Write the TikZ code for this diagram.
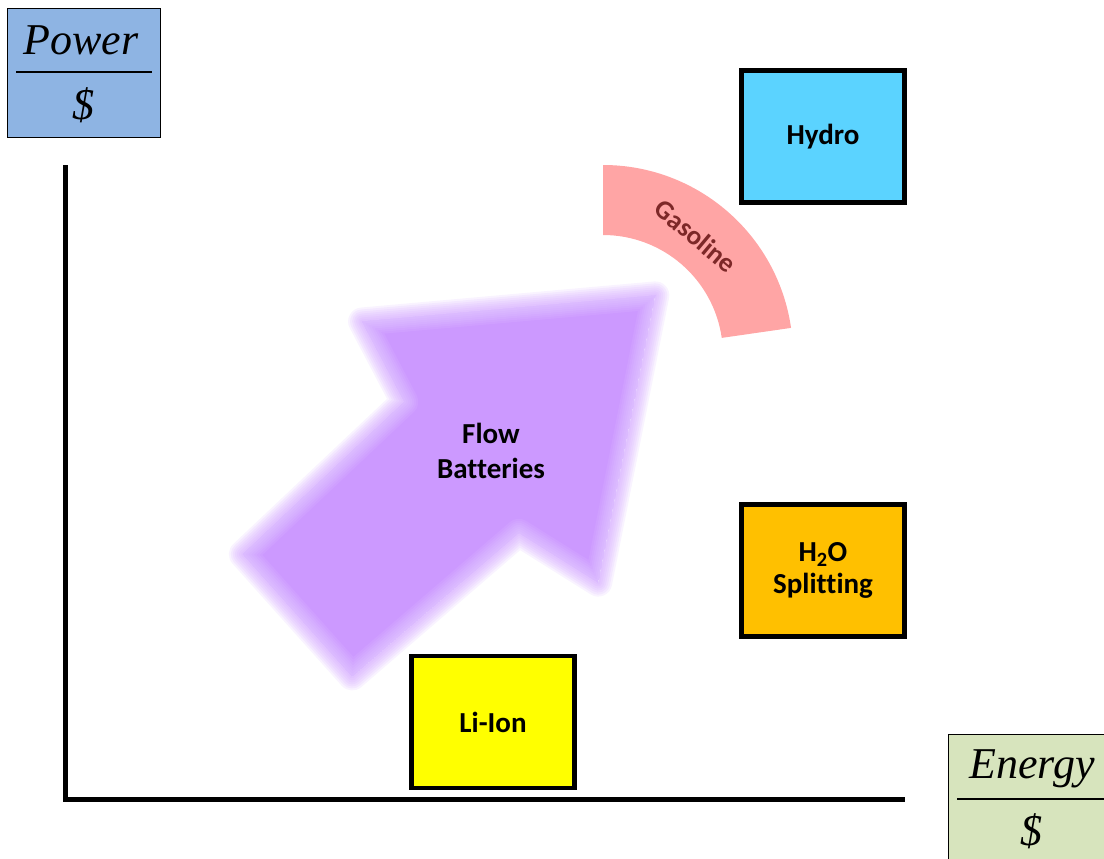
\documentclass[tikz,border=0pt]{standalone}
\usepackage{fontspec}
\newfontfamily\labelfont[Ligatures={NoCommon}]{Carlito}
\newfontfamily\axisfont{Liberation Serif}
\definecolor{powerblue}{HTML}{8EB4E3}
\definecolor{energygreen}{HTML}{D7E4BD}
\definecolor{hydrocyan}{HTML}{5BD3FF}
\definecolor{splitorange}{HTML}{FFC000}
\definecolor{lionyellow}{HTML}{FFFF00}
\definecolor{gaspink}{HTML}{FFA5A5}
\definecolor{gastext}{RGB}{125,40,40}
\definecolor{flowpurple}{HTML}{CC99FF}

\begin{document}
\begin{tikzpicture}[x=1pt,y=1pt,
  techbox/.style={draw=black, line width=4.5pt, minimum width=163pt, minimum height=132pt,
    inner sep=0pt, align=center, font=\labelfont\bfseries\fontsize{29}{32}\selectfont},
  fracbox/.style={draw=black, line width=0.9pt, inner sep=0pt},
  fracword/.style={font=\axisfont\itshape\fontsize{44}{44}\selectfont, inner sep=0pt},
  fracbar/.style={line width=2pt},
  axisline/.style={line width=5pt, line join=miter},
  plainlabel/.style={align=center, inner sep=0pt, font=\labelfont\bfseries\fontsize{29}{35}\selectfont},
]
\useasboundingbox (0,0) rectangle (1104,-859);
\clip (0,0) rectangle (1104,-859);

% soft-edged arrow for flow batteries
\def\arrowpath{(-2,-82) -- (218,-86) -- (244,-176) -- (478,0) -- (242,176) -- (220,88) -- (-2,82) -- cycle}
\begin{scope}[shift={(299,-614)}, rotate=41.8]
  \foreach \d in {2,4,6,8,10,12,14}{
    \draw[flowpurple, opacity=0.12, line width=2*\d pt, line join=round] \arrowpath;
  }
  \begin{scope}
    \clip \arrowpath;
    \fill[flowpurple] \arrowpath;
    \foreach \d in {2,4,6,8,10,12,14}{
      \draw[white, opacity=0.06, line width=2*\d pt, line join=round] \arrowpath;
    }
  \end{scope}
\end{scope}
\node[plainlabel] (flow) at (491,-451) {Flow\\Batteries};

% gasoline band
\coordinate (gascenter) at (603,-355);
\fill[gaspink] (gascenter) ++(8.2:190) arc[start angle=8.2, end angle=90, radius=190]
  -- ++(0,-70) arc[start angle=90, end angle=8.2, radius=120] -- cycle;
\node[rotate=-40, text=gastext, font=\labelfont\bfseries\fontsize{27}{27}\selectfont, inner sep=0pt]
  (gasoline) at (696,-236) {Gasoline};

% technology boxes
\node[techbox, fill=hydrocyan] (hydro) at (823,-136.5) {Hydro};
\node[techbox, fill=splitorange] (split) at (823,-570.5) {H\textsubscript{2}O\\Splitting};
\node[techbox, fill=lionyellow] (lion) at (493,-722) {Li-Ion};

% axes
\coordinate (ytop) at (65,-165);
\coordinate (origin) at (65,-799);
\coordinate (xend) at (905,-799);
\draw[axisline] (ytop) -- (origin) -- (xend);

% power per dollar
\node[fracbox, fill=powerblue, minimum width=153pt, minimum height=129pt] (powerbox) at (83.5,-72.5) {};
\node[fracword, anchor=base] (powerword) at (81,-55) {Power};
\coordinate (pbarl) at (16,-72);
\coordinate (pbarr) at (152,-72);
\draw[fracbar] (pbarl) -- (pbarr);
\node[fracword, anchor=base] (powerden) at (83,-120) {\$};

% energy per dollar
\node[fracbox, fill=energygreen, minimum width=170pt, minimum height=140pt] (energybox) at (1033,-804) {};
\node[fracword, anchor=base] (energyword) at (1032,-778) {Energy};
\coordinate (ebarl) at (957,-799);
\coordinate (ebarr) at (1110,-799);
\draw[fracbar] (ebarl) -- (ebarr);
\node[fracword, anchor=base] (energyden) at (1031,-845) {\$};
\end{tikzpicture}
\end{document}
